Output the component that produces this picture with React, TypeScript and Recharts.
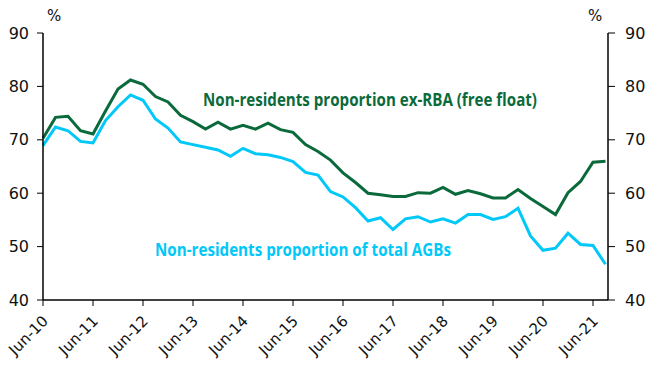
import { LineChart, Line, XAxis, YAxis } from "recharts";

// quarterly, Jun-10 .. Sep-21
const exRba = [
  70.3, 74.2, 74.4, 71.7, 71.1, 75.4, 79.5, 81.2, 80.4, 78.1,
  77.1, 74.6, 73.4, 72.0, 73.3, 72.0, 72.7, 72.0, 73.1, 71.9,
  71.4, 69.1, 67.8, 66.2, 63.8, 62.0, 60.0, 59.7, 59.4, 59.4,
  60.1, 60.0, 61.1, 59.8, 60.5, 59.9, 59.1, 59.1, 60.7, 59.0,
  57.5, 56.0, 60.1, 62.2, 65.8, 66.0,
];
const totalAgbs = [
  68.9, 72.4, 71.7, 69.7, 69.4, 73.6, 76.2, 78.4, 77.4, 73.9,
  72.2, 69.6, 69.1, 68.6, 68.1, 66.9, 68.4, 67.4, 67.2, 66.7,
  65.9, 63.9, 63.4, 60.3, 59.3, 57.3, 54.8, 55.4, 53.2, 55.2,
  55.6, 54.6, 55.2, 54.4, 56.0, 56.0, 55.1, 55.6, 57.2, 52.0,
  49.3, 49.7, 52.5, 50.4, 50.2, 46.7,
];
const xLabels = [
  "Jun-10", "Jun-11", "Jun-12", "Jun-13", "Jun-14", "Jun-15",
  "Jun-16", "Jun-17", "Jun-18", "Jun-19", "Jun-20", "Jun-21",
];
const yTicks = [40, 50, 60, 70, 80, 90];

const GREEN = "#0B6A3C";
const BLUE = "#00C8F8";
const FONT = "DejaVu Sans";

const data = exRba.map((v, i) => ({ i, exRba: v, total: totalAgbs[i] }));
const xTicks = xLabels.map((_, k) => k * 4);

function XTick(props: any) {
  const { x, y, payload } = props;
  return (
    <g transform={`translate(${x + 6},${y + 14})`}>
      <text x={0} y={0} textAnchor="end" transform="rotate(-45)"
        fontSize={15} fill="#111" fontFamily={FONT}>
        {xLabels[payload.value / 4]}
      </text>
    </g>
  );
}

export default function App() {
  const tick = { fontSize: 16, fill: "#111", fontFamily: FONT };
  return (
    <div style={{ position: "absolute", left: 0, top: 0, width: 653, height: 368, background: "#fff" }}>
      <LineChart width={653} height={368} data={data}
        margin={{ top: 33, right: 0, left: 0, bottom: 0 }}>
        <XAxis dataKey="i" type="number" domain={[0, 45.2]} ticks={xTicks}
          interval={0} height={68} tick={<XTick />} tickSize={6}
          axisLine={{ stroke: "#000", strokeWidth: 1.5 }} tickLine={{ stroke: "#000" }} />
        <YAxis yAxisId="l" domain={[40, 90]} ticks={yTicks} width={43}
          tick={tick} tickSize={6} tickMargin={8}
          axisLine={{ stroke: "#000", strokeWidth: 1.5 }} tickLine={{ stroke: "#000" }} />
        <YAxis yAxisId="r" orientation="right" domain={[40, 90]} ticks={yTicks} width={45}
          tick={tick} tickSize={7} tickMargin={10}
          axisLine={{ stroke: "#000", strokeWidth: 1.5 }} tickLine={{ stroke: "#000" }} />
        <Line yAxisId="r" dataKey="total" stroke={BLUE} strokeWidth={3} dot={false}
          isAnimationActive={false} />
        <Line yAxisId="l" dataKey="exRba" stroke={GREEN} strokeWidth={3} dot={false}
          isAnimationActive={false} />
      </LineChart>
      <svg width={653} height={368} style={{ position: "absolute", left: 0, top: 0, pointerEvents: "none" }}>
        <text x={47} y={21} fontSize={15} fontFamily={FONT} fill="#111">%</text>
        <text x={588} y={21} fontSize={15} fontFamily={FONT} fill="#111">%</text>
        <text x={203} y={106} fontSize={17} fontWeight="bold" fontFamily="Open Sans"
          fill={GREEN} textLength={334} lengthAdjust="spacingAndGlyphs">
          Non-residents proportion ex-RBA (free float)
        </text>
        <text x={155} y={256} fontSize={17} fontWeight="bold" fontFamily="Open Sans"
          fill={BLUE} textLength={296} lengthAdjust="spacingAndGlyphs">
          Non-residents proportion of total AGBs
        </text>
      </svg>
    </div>
  );
}
